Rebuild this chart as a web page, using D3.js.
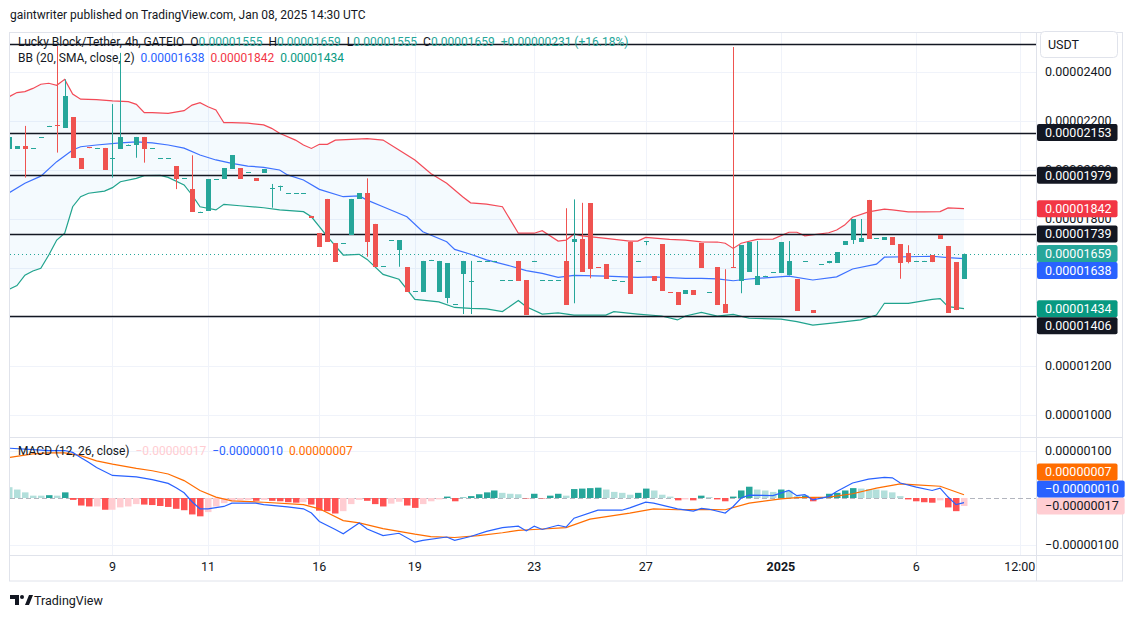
<!DOCTYPE html>
<html>
<head>
<meta charset="utf-8">
<script src="https://cdn.jsdelivr.net/npm/d3@7/dist/d3.min.js"></script>
<style>
    html, body { margin: 0; padding: 0; background: #fff; }
    svg { display: block; font-family: Roboto, "Noto Sans", sans-serif; }
    text { white-space: pre; }
</style>
</head>
<body>
<svg id="chart" width="1132" height="617"></svg>
<script>
// all prices are in units of 0.00000001 USDT, one entry per 4h bar
const OPEN = [2086, 2087, 2098, 2087, 2132, 2178, 2182, 2173, 2216, 2049, 2092, 2089, 2090, 2046, 2087, 2100, 2103, 2135, 2088, 2047,
    2047, 2016, 1965, 1922, 1829, 1834, 1962, 1964, 2005, 2008, 1990, 1967, 1989, 1925, 1935, 1904, 1904, 1904, 1813, 1742,
    1882, 1702, 1701, 1736, 1882, 1906, 1780, 1607, 1712, 1675, 1604, 1504, 1503, 1632, 1503, 1479, 1451, 1577, 1547, 1628,
    1628, 1628, 1549, 1549, 1629, 1551, 1628, 1549, 1549, 1549, 1629, 1707, 1718, 1865, 1604, 1615, 1549, 1545, 1707, 1628,
    1708, 1567, 1698, 1502, 1501, 1495, 1510, 1701, 1500, 1604, 1453, 1605, 1548, 1585, 1532, 1568, 1581, 1581, 1570, 1555,
    1626, 1428, 1614, 1619, 1622, 1695, 1714, 1706, 1878, 1720, 1716, 1725, 1697, 1661, 1628, 1628, 1652, 1735, 1690, 1624,
    1555];
const HIGH = [2135, 2098, 2180, 2089, 2133, 2180, 2506, 2370, 2216, 2049, 2092, 2090, 2090, 2269, 2478, 2104, 2135, 2135, 2089, 2048,
    2048, 2016, 1966, 2060, 1830, 1962, 1963, 2008, 2060, 2008, 1991, 1967, 2003, 1943, 1936, 1905, 1905, 1905, 1813, 1742,
    1882, 1702, 1702, 1882, 1906, 1966, 1780, 1608, 1713, 1713, 1604, 1505, 1629, 1633, 1629, 1620, 1452, 1629, 1629, 1629,
    1629, 1629, 1550, 1550, 1629, 1551, 1629, 1550, 1550, 1550, 1844, 1880, 1866, 1865, 1604, 1615, 1550, 1546, 1707, 1629,
    1709, 1567, 1698, 1502, 1501, 1510, 1510, 1701, 1501, 1604, 1595, 2502, 1692, 1706, 1710, 1569, 1582, 1706, 1710, 1555,
    1627, 1428, 1615, 1629, 1665, 1710, 1800, 1800, 1878, 1721, 1725, 1725, 1697, 1693, 1629, 1629, 1652, 1735, 1690, 1624,
    1659];
const LOW = [2086, 2087, 1969, 2087, 2132, 2178, 2071, 2173, 2050, 2005, 2089, 2089, 2001, 1969, 2087, 2100, 2050, 2030, 2088, 2047,
    2047, 1922, 1965, 1830, 1829, 1834, 1962, 1964, 2005, 1964, 1990, 1956, 1989, 1846, 1915, 1904, 1904, 1904, 1805, 1687,
    1707, 1626, 1701, 1736, 1882, 1646, 1605, 1607, 1712, 1605, 1503, 1504, 1503, 1632, 1503, 1456, 1451, 1412, 1412, 1628,
    1628, 1628, 1549, 1549, 1548, 1408, 1628, 1549, 1549, 1549, 1450, 1456, 1585, 1558, 1603, 1556, 1549, 1545, 1495, 1628,
    1693, 1548, 1507, 1501, 1450, 1495, 1491, 1601, 1500, 1450, 1417, 1601, 1497, 1585, 1532, 1568, 1581, 1581, 1570, 1426,
    1626, 1417, 1614, 1619, 1622, 1695, 1698, 1706, 1720, 1720, 1716, 1694, 1556, 1619, 1628, 1628, 1624, 1720, 1417, 1428,
    1555];
const CLOSE = [2135, 2098, 2087, 2089, 2133, 2180, 2178, 2302, 2050, 2005, 2089, 2090, 2001, 2048, 2135, 2104, 2135, 2087, 2089, 2048,
    2048, 1964, 1966, 1830, 1830, 1962, 1963, 2008, 2060, 1964, 1991, 1956, 2003, 1927, 1936, 1905, 1905, 1905, 1805, 1687,
    1707, 1626, 1702, 1882, 1906, 1707, 1605, 1608, 1713, 1713, 1503, 1505, 1629, 1633, 1629, 1620, 1452, 1629, 1548, 1629,
    1629, 1629, 1550, 1550, 1548, 1408, 1629, 1550, 1550, 1550, 1450, 1718, 1585, 1597, 1603, 1556, 1550, 1546, 1495, 1629,
    1709, 1548, 1507, 1501, 1450, 1510, 1491, 1601, 1501, 1450, 1417, 1601, 1692, 1706, 1566, 1569, 1582, 1706, 1629, 1426,
    1627, 1417, 1615, 1629, 1665, 1710, 1800, 1722, 1720, 1721, 1725, 1694, 1622, 1624, 1629, 1629, 1624, 1720, 1417, 1428,
    1659];

// Bollinger bands: [bar, price]
const BB_UPPER = [[0, 2299], [1, 2316], [2, 2320], [3, 2333], [4, 2350], [5, 2354], [6, 2346], [7, 2370], [8, 2310], [9, 2289],
    [11, 2287], [13, 2282], [15, 2279], [16, 2268], [17, 2234], [18, 2234], [20, 2231], [22, 2242], [23, 2265], [24, 2275],
    [25, 2258], [26, 2245], [27, 2193], [28, 2193], [30, 2191], [32, 2184], [33, 2170], [34, 2150], [36, 2122], [37, 2102],
    [38, 2088], [39, 2105], [40, 2105], [41, 2122], [43, 2125], [45, 2128], [47, 2122], [49, 2082], [51, 2041], [53, 1986],
    [55, 1946], [57, 1891], [58, 1866], [60, 1861], [62, 1850], [64, 1742], [66, 1742], [67, 1752], [69, 1710], [70, 1714],
    [71, 1739], [72, 1731], [75, 1721], [78, 1710], [79, 1710], [80, 1725], [83, 1717], [85, 1714], [87, 1707], [89, 1706],
    [90, 1701], [91, 1680], [92, 1701], [94, 1717], [96, 1718], [98, 1746], [99, 1746], [100, 1731], [103, 1744], [104, 1755],
    [105, 1775], [106, 1807], [108, 1829], [110, 1840], [111, 1837], [113, 1829], [115, 1829], [117, 1830], [118, 1845], [120, 1842]];
const BB_BASIS = [[0, 1907], [2, 1946], [4, 1975], [6, 2034], [8, 2082], [9, 2095], [11, 2102], [14, 2111], [16, 2115], [18, 2111],
    [20, 2102], [22, 2089], [24, 2061], [26, 2041], [28, 2027], [30, 2016], [32, 2011], [34, 2000], [35, 1980], [37, 1959],
    [39, 1921], [42, 1891], [44, 1894], [45, 1877], [47, 1850], [50, 1809], [52, 1748], [55, 1707], [56, 1676], [58, 1656],
    [60, 1633], [63, 1608], [65, 1589], [67, 1578], [69, 1562], [71, 1570], [75, 1567], [79, 1562], [81, 1564], [85, 1558],
    [87, 1558], [89, 1556], [91, 1548], [93, 1555], [95, 1560], [98, 1567], [101, 1551], [104, 1564], [106, 1596], [109, 1616],
    [110, 1644], [113, 1646], [116, 1648], [118, 1642], [120, 1638]];
const BB_LOWER = [[0, 1513], [1, 1528], [2, 1571], [3, 1588], [4, 1599], [5, 1653], [6, 1714], [7, 1742], [8, 1850], [9, 1891],
    [10, 1905], [12, 1914], [13, 1928], [14, 1952], [16, 1966], [17, 1977], [19, 1978], [20, 1970], [22, 1939], [23, 1898],
    [24, 1850], [26, 1837], [27, 1860], [29, 1854], [32, 1846], [34, 1837], [37, 1830], [38, 1809], [39, 1769], [40, 1728],
    [42, 1653], [44, 1656], [45, 1635], [47, 1574], [49, 1554], [51, 1472], [54, 1462], [56, 1439], [58, 1435], [60, 1433],
    [62, 1422], [64, 1467], [65, 1442], [67, 1412], [69, 1417], [71, 1408], [75, 1408], [76, 1422], [79, 1412], [82, 1404],
    [84, 1388], [85, 1404], [87, 1419], [89, 1404], [91, 1411], [93, 1395], [97, 1391], [99, 1381], [101, 1367], [104, 1377],
    [107, 1388], [109, 1408], [110, 1456], [113, 1456], [116, 1472], [117, 1475], [118, 1442], [120, 1434]];

// MACD in units of 0.00000001
const MACD_HIST = [23, 18, 12, 5, 5, 6, 5, 12, -4, -16, -18, -18, -25, -25, -20, -18, -13, -14, -15, -17,
    -19, -23, -26, -35, -39, -30, -18, -11, -7, -5, -4, -6, -4, -6, -7, -9, -10, -9, -14, -27,
    -28, -33, -28, -13, -4, -6, -13, -18, -12, -8, -16, -21, -13, -7, -3, 3, -7, 1, 4, 8,
    12, 16, 11, 9, 8, -1, 9, -1, 5, 9, 5, 19, 20, 21, 22, 18, 13, 11, 7, 11,
    20, 16, 7, 3, -5, -3, -5, 5, 2, -3, -7, 3, 16, 24, 18, 16, 13, 18, 16, 4,
    5, -7, 2, 9, 11, 16, 21, 20, 19, 18, 16, 12, 4, -3, -7, -9, -10, -5, -20, -28,
    -17];
const MACD_LINE = [[0, 106], [3, 103], [5, 101], [7, 101], [8, 97], [9, 86], [10, 76], [11, 65], [13, 48], [16, 45],
    [18, 39], [20, 31], [21, 22], [22, 11], [23, -8], [24, -23], [25, -23], [27, -18], [28, -11], [31, -11],
    [32, -14], [35, -19], [37, -23], [38, -32], [39, -50], [41, -67], [42, -76], [44, -53], [45, -66], [47, -80],
    [49, -75], [51, -94], [52, -90], [55, -83], [56, -90], [58, -82], [60, -71], [62, -63], [64, -60], [65, -70],
    [66, -60], [67, -67], [69, -58], [70, -62], [71, -43], [74, -26], [77, -26], [78, -21], [80, -9], [81, -11],
    [84, -23], [86, -28], [87, -22], [88, -24], [90, -32], [91, -18], [92, 0], [93, 6], [96, 5], [98, 16],
    [99, 5], [100, 7], [101, -4], [103, 3], [104, 14], [106, 32], [108, 40], [110, 44], [111, 43], [112, 32],
    [114, 23], [116, 16], [117, 21], [118, 2], [119, -14], [120, -10]];
const MACD_SIGNAL = [[0, 86], [3, 94], [5, 96], [7, 96], [9, 90], [11, 79], [13, 72], [16, 63], [18, 58], [20, 51],
    [22, 37], [24, 16], [26, 2], [28, -6], [32, -9], [37, -14], [39, -23], [42, -48], [44, -53], [47, -65],
    [51, -77], [53, -82], [56, -84], [59, -80], [62, -74], [64, -69], [66, -67], [70, -63], [73, -45], [78, -32],
    [81, -23], [84, -25], [87, -24], [90, -25], [93, -11], [97, -2], [99, 1], [103, 2], [106, 9], [109, 21],
    [112, 30], [114, 28], [117, 25], [120, 7]];

// horizontal levels drawn on the chart
const LEVELS = [2514, 2153, 1979, 1739, 1406];
const PRICE_TICKS = [1000, 1200, 1400, 1600, 1800, 2000, 2200, 2400];
const MACD_TICKS = [-100, 100];
const TIME_TICKS = [
    {bar: 13, label: '9'}, {bar: 25, label: '11'}, {bar: 39, label: '16'}, {bar: 51, label: '19'},
    {bar: 66, label: '23'}, {bar: 80, label: '27'}, {bar: 97, label: '2025', bold: true},
    {bar: 114, label: '6'}, {bar: 127, label: '12:00'}
];

const UP = '#26a69a', DOWN = '#ef5350', INK = '#131722', GRID = '#f0f3fa', BORDER = '#e0e3eb';
const last = OPEN.length - 1;

const svg = d3.select('#chart');
const left = 10, right = 1036, axisRight = 1122;
const paneTop = 33, paneBottom = 437, macdBottom = 555, frameBottom = 581;

const x = d3.scaleLinear().domain([0, 120]).range([9, 964]);
const y = d3.scaleLinear().domain([1000, 2400]).range([415, 72]);
const ym = d3.scaleLinear().domain([-100, 100]).range([545, 451]);

const fmt = v => (v < 0 ? '\u2212' : '') + (Math.abs(v) / 1e8).toFixed(8);
const px = i => Math.round(x(i)) + 0.5;

const defs = svg.append('defs');
defs.append('clipPath').attr('id', 'clipPrice').append('rect')
    .attr('x', left).attr('y', paneTop + 1).attr('width', right - left).attr('height', paneBottom - paneTop - 1);
defs.append('clipPath').attr('id', 'clipMacd').append('rect')
    .attr('x', left).attr('y', paneBottom + 1).attr('width', right - left).attr('height', macdBottom - paneBottom - 1);

// header
svg.append('text').attr('x', 10).attr('y', 19).attr('font-size', 12).attr('fill', INK)
    .text('gaintwriter published on TradingView.com, Jan 08, 2025 14:30 UTC');

// grid
const grid = svg.append('g');
grid.selectAll('.hg').data(PRICE_TICKS).join('line')
    .attr('x1', left).attr('x2', right).attr('y1', d => Math.round(y(d)) + 0.5).attr('y2', d => Math.round(y(d)) + 0.5)
    .attr('stroke', GRID);
grid.selectAll('.mg').data(MACD_TICKS).join('line')
    .attr('x1', left).attr('x2', right).attr('y1', d => Math.round(ym(d)) + 0.5).attr('y2', d => Math.round(ym(d)) + 0.5)
    .attr('stroke', GRID);
TIME_TICKS.forEach(t => {
    [[paneTop, paneBottom], [paneBottom, macdBottom]].forEach(r => {
        grid.append('line').attr('x1', px(t.bar)).attr('x2', px(t.bar))
            .attr('y1', r[0]).attr('y2', r[1]).attr('stroke', GRID);
    });
});

// price pane
const price = svg.append('g').attr('clip-path', 'url(#clipPrice)');

const upperPts = BB_UPPER.map(d => [x(d[0]), y(d[1])]);
const lowerPts = BB_LOWER.map(d => [x(d[0]), y(d[1])]);
price.append('path')
    .attr('d', d3.line()(upperPts.concat(lowerPts.slice().reverse())) + 'Z')
    .attr('fill', 'rgba(33,150,243,0.05)');

const bbLine = d3.line().x(d => x(d[0])).y(d => y(d[1]));
[[BB_UPPER, '#f23645'], [BB_BASIS, '#2962ff'], [BB_LOWER, '#089981']].forEach(s => {
    price.append('path').attr('d', bbLine(s[0])).attr('fill', 'none')
        .attr('stroke', s[1]).attr('stroke-width', 1.2).attr('opacity', 0.9);
});

price.selectAll('.lvl').data(LEVELS).join('line')
    .attr('x1', left).attr('x2', right)
    .attr('y1', d => Math.round(y(d)) + 0.5).attr('y2', d => Math.round(y(d)) + 0.5)
    .attr('stroke', INK).attr('stroke-width', 1.3);

price.append('line')
    .attr('x1', left).attr('x2', right)
    .attr('y1', Math.round(y(CLOSE[last])) + 0.5).attr('y2', Math.round(y(CLOSE[last])) + 0.5)
    .attr('stroke', UP).attr('stroke-dasharray', '1,3');

const candles = price.selectAll('.candle').data(d3.range(OPEN.length)).join('g');
candles.each(function (i) {
    const g = d3.select(this);
    const color = CLOSE[i] >= OPEN[i] ? UP : DOWN;
    const top = Math.round(y(Math.max(OPEN[i], CLOSE[i])));
    const bot = Math.round(y(Math.min(OPEN[i], CLOSE[i])));
    if (HIGH[i] > LOW[i]) {
        g.append('line').attr('x1', px(i)).attr('x2', px(i))
            .attr('y1', y(HIGH[i])).attr('y2', y(LOW[i])).attr('stroke', color);
    }
    g.append('rect')
        .attr('x', px(i) - 2.5).attr('width', 5)
        .attr('y', top).attr('height', Math.max(1, bot - top))
        .attr('fill', color);
});

// macd pane
const macd = svg.append('g').attr('clip-path', 'url(#clipMacd)');
macd.append('line').attr('x1', left).attr('x2', right)
    .attr('y1', Math.round(ym(0)) + 0.5).attr('y2', Math.round(ym(0)) + 0.5)
    .attr('stroke', '#b2b5be').attr('stroke-dasharray', '5,3');

macd.selectAll('.hist').data(MACD_HIST).join('rect')
    .attr('x', (d, i) => px(i) - 3.5).attr('width', 6.5)
    .attr('y', d => Math.min(ym(0), ym(d))).attr('height', d => Math.abs(ym(d) - ym(0)))
    .attr('fill', (d, i) => {
        const prev = i > 0 ? MACD_HIST[i - 1] : Infinity;
        if (d >= 0) return d > prev ? '#26a69a' : '#b2dfdb';
        return d < prev ? '#ff5252' : '#ffcdd2';
    });

const macdLine = d3.line().x(d => x(d[0])).y(d => ym(d[1]));
macd.append('path').attr('d', macdLine(MACD_SIGNAL)).attr('fill', 'none').attr('stroke', '#ff6d00').attr('stroke-width', 1.2);
macd.append('path').attr('d', macdLine(MACD_LINE)).attr('fill', 'none').attr('stroke', '#2962ff').attr('stroke-width', 1.2);

// frame and separators
const frame = svg.append('g').attr('stroke', BORDER).attr('fill', 'none');
frame.append('rect').attr('x', 9.5).attr('y', paneTop - 0.5).attr('width', axisRight - 9).attr('height', frameBottom - paneTop + 0.5);
frame.append('line').attr('x1', 9.5).attr('x2', axisRight + 0.5).attr('y1', paneBottom + 0.5).attr('y2', paneBottom + 0.5);
frame.append('line').attr('x1', 9.5).attr('x2', axisRight + 0.5).attr('y1', macdBottom + 0.5).attr('y2', macdBottom + 0.5);
frame.append('line').attr('x1', right + 0.5).attr('x2', right + 0.5).attr('y1', paneTop).attr('y2', frameBottom);

// legends
const legend = (yy, parts) => {
    const t = svg.append('text').attr('x', 18).attr('y', yy).attr('font-size', 12);
    parts.forEach(p => t.append('tspan').attr('fill', p[1]).text(p[0]));
};
const chg = CLOSE[last] - CLOSE[last - 1];
legend(46, [
    ['Lucky Block/Tether, 4h, GATEIO  O', INK], [fmt(OPEN[last]), UP],
    ['  H', INK], [fmt(HIGH[last]), UP],
    ['  L', INK], [fmt(LOW[last]), UP],
    ['  C', INK], [fmt(CLOSE[last]), UP],
    ['  +' + fmt(chg) + ' (+' + (chg / CLOSE[last - 1] * 100).toFixed(2) + '%)', UP]
]);
legend(62, [
    ['BB (20, SMA, close, 2)  ', INK],
    [fmt(BB_BASIS[BB_BASIS.length - 1][1]) + '  ', '#2962ff'],
    [fmt(BB_UPPER[BB_UPPER.length - 1][1]) + '  ', '#f23645'],
    [fmt(BB_LOWER[BB_LOWER.length - 1][1]), '#089981']
]);
const mH = MACD_HIST[last], mM = MACD_LINE[MACD_LINE.length - 1][1], mS = MACD_SIGNAL[MACD_SIGNAL.length - 1][1];
legend(455, [
    ['MACD (12, 26, close)  ', INK],
    [fmt(mH) + '  ', '#ffcdd2'],
    [fmt(mM) + '  ', '#2962ff'],
    [fmt(mS), '#ff6d00']
]);

// right axis
const axis = svg.append('g').attr('font-size', 12.5);
axis.append('rect').attr('x', 1040.5).attr('y', 31.5).attr('width', 77).attr('height', 26).attr('rx', 4)
    .attr('fill', '#fff').attr('stroke', BORDER);
axis.append('text').attr('x', 1048).attr('y', 49).attr('fill', INK).text('USDT');

const stack = (items, gap, dir) => {
    items.sort((a, b) => dir * (a.y - b.y));
    for (let k = 1; k < items.length; k++) {
        if (dir * (items[k].y - items[k - 1].y) < gap) items[k].y = items[k - 1].y + dir * gap;
    }
    return items;
};
const priceBadges = LEVELS.slice(1).map(v => ({v, bg: INK, fg: '#fff'})).concat([
    {v: BB_UPPER[BB_UPPER.length - 1][1], bg: '#f23645', fg: '#fff'},
    {v: CLOSE[last], bg: UP, fg: '#fff'},
    {v: BB_BASIS[BB_BASIS.length - 1][1], bg: '#2962ff', fg: '#fff'},
    {v: BB_LOWER[BB_LOWER.length - 1][1], bg: '#089981', fg: '#fff'}
]);
priceBadges.forEach(b => b.y = y(b.v));
stack(priceBadges, 17, 1);
const macdBadges = [
    {v: mS, bg: '#ff6d00', fg: '#fff'},
    {v: mM, bg: '#2962ff', fg: '#fff'},
    {v: mH, bg: '#ffcdd2', fg: INK}
];
macdBadges.forEach(b => b.y = ym(b.v));
stack(macdBadges, 17, -1);

// a tick label is left out only when the badges hide it completely
const hidden = (ty, badges) => {
    let lo = ty - 5;
    badges.slice().sort((a, b) => a.y - b.y).forEach(b => {
        if (b.y - 8.5 <= lo && b.y + 8.5 > lo) lo = b.y + 8.5;
    });
    return lo >= ty + 5;
};
axis.selectAll('.pt').data(PRICE_TICKS.filter(d => !hidden(y(d), priceBadges))).join('text')
    .attr('x', 1045).attr('y', d => y(d)).attr('dy', '0.35em').attr('fill', INK).text(fmt);
axis.selectAll('.mt').data(MACD_TICKS).join('text')
    .attr('x', 1045).attr('y', d => ym(d)).attr('dy', '0.35em').attr('fill', INK).text(fmt);

const badge = (items) => {
    items.forEach(b => {
        const r = axis.append('rect').attr('x', 1037).attr('y', b.y - 8.5).attr('height', 17).attr('rx', 2)
            .attr('fill', b.bg);
        const t = axis.append('text').attr('x', 1045).attr('y', b.y).attr('dy', '0.35em')
            .attr('fill', b.fg).text(fmt(b.v));
        r.attr('width', t.node().getComputedTextLength() + 14);
    });
};
badge(priceBadges);
badge(macdBadges);

// time axis
svg.selectAll('.tt').data(TIME_TICKS).join('text')
    .attr('x', d => x(d.bar)).attr('y', 571).attr('text-anchor', 'middle')
    .attr('font-size', 12.5).attr('font-weight', d => d.bold ? 'bold' : 'normal')
    .attr('fill', INK).text(d => d.label);

// footer logo
const logo = svg.append('g').attr('fill', INK);
logo.append('path').attr('d', 'M10 595 h9 v10 h-4 v-6 h-5 z');
logo.append('circle').attr('cx', 22).attr('cy', 597).attr('r', 2);
logo.append('path').attr('d', 'M25 605 l4 -10 h4 l-4 10 z');
svg.append('text').attr('x', 34).attr('y', 605).attr('font-size', 12.5).attr('fill', INK).text('TradingView');
</script>
</body>
</html>
